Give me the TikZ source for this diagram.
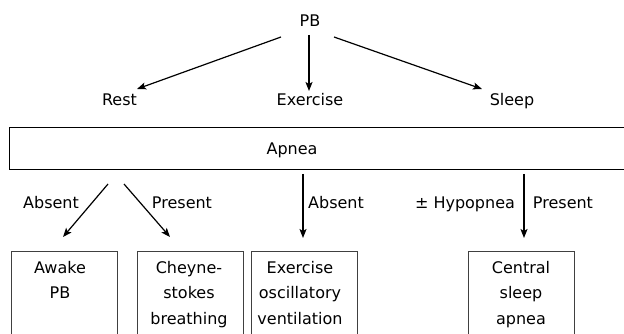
\documentclass[tikz,border=0pt]{standalone}
\usepackage{fontspec}
\setmainfont{DejaVu Sans}
\usetikzlibrary{arrows.meta}
\begin{document}
\begin{tikzpicture}[x=1pt,y=-1pt,
  font=\fontsize{16}{25.5}\selectfont,
  arr/.style={line width=1.2pt,-{Stealth[length=9pt,width=7pt,inset=2pt]}},
  lbl/.style={inner sep=0pt,anchor=base},
  outbox/.style={draw=black!75,line width=0.9pt,inner sep=0pt,anchor=north,minimum width=#1,minimum height=100pt},
  boxtext/.style={inner sep=0pt,anchor=north,align=center}]
\useasboundingbox (0,0) rectangle (624,334);
\clip (0,0) rectangle (624,334);
% top level
\node[lbl] (pb) at (310,27) {PB};
\node[lbl] (rest) at (119.5,106) {Rest};
\node[lbl] (ex) at (310,106) {Exercise};
\node[lbl] (sl) at (512,106) {Sleep};
\draw[arr] ([shift={(-29,10)}]pb.base) -- ([shift={(17.5,-17)}]rest.base);
\draw[arr] ([shift={(-1,8)}]pb.base) -- ([shift={(-1,-15)}]ex.base);
\draw[arr] ([shift={(24,10)}]pb.base) -- ([shift={(-30,-17)}]sl.base);
% apnea bar
\node[draw=black,line width=1pt,inner sep=0pt,anchor=north west,minimum width=630pt,minimum height=42pt] (apbox) at (9,127) {};
\node[lbl] (apnea) at (292,154) {Apnea};
% bottom boxes
\node[outbox=106pt] (b1) at (64,251) {};
\node[outbox=106pt] (b2) at (190,251) {};
\node[outbox=106pt] (b3) at (304,251) {};
\node[outbox=106pt] (b4) at (521,251) {};
\node[boxtext] (t1) at ([shift={(-4,10)}]b1.north) {Awake\\PB};
\node[boxtext] (t2) at ([shift={(-1,10)}]b2.north) {Cheyne-\\stokes\\breathing};
\node[boxtext] (t3) at ([shift={(-4,10)}]b3.north) {Exercise\\oscillatory\\ventilation};
\node[boxtext] (t4) at ([shift={(0,10)}]b4.north) {Central\\sleep\\apnea};
% arrows below apnea
\draw[arr] ([shift={(99,14)}]apbox.south west) -- ([shift={(-1,-14)}]b1.north);
\draw[arr] ([shift={(115,14)}]apbox.south west) -- ([shift={(-20,-14)}]b2.north);
\draw[arr] ([shift={(294,4)}]apbox.south west) -- ([shift={(-1,-13)}]b3.north);
\draw[arr] ([shift={(515,4)}]apbox.south west) -- ([shift={(3,-13)}]b4.north);
% labels
\node[lbl] (l1) at (51,208) {Absent};
\node[lbl] (l2) at (182,208) {Present};
\node[lbl] (l3) at (336,208) {Absent};
\node[lbl] (l4) at (465,208) {± Hypopnea};
\node[lbl] (l5) at (563,208) {Present};
\end{tikzpicture}
\end{document}
